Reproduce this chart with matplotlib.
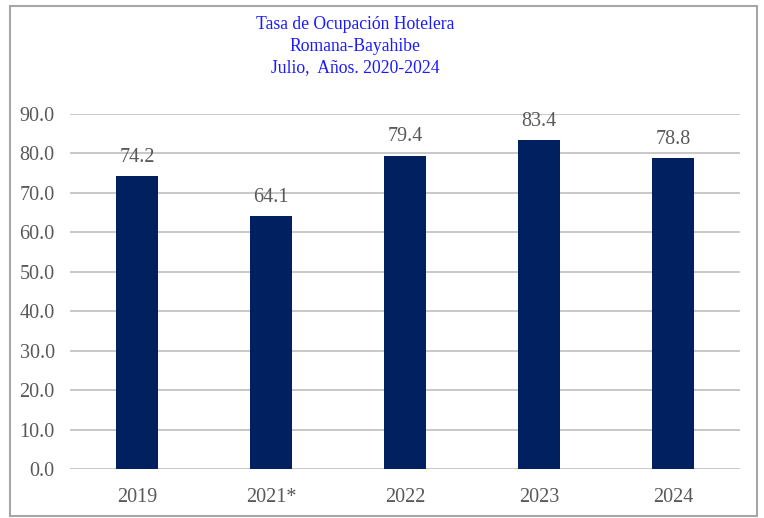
import matplotlib.pyplot as plt
from matplotlib.patches import Rectangle

years = ['2019', '2021*', '2022', '2023', '2024']
ocupacion = [74.2, 64.1, 79.4, 83.4, 78.8]
yticks = [0, 10, 20, 30, 40, 50, 60, 70, 80, 90]

plt.rcParams['font.family'] = ['Liberation Serif', 'DejaVu Serif']

fig = plt.figure(figsize=(7.64, 5.18), dpi=100)
ax = fig.add_axes([0.0916, 0.0946, 0.877, 0.6853])

x = range(len(years))
ax.bar(x, ocupacion, width=0.31, color='#002060', zorder=3)
for xi, v in zip(x, ocupacion):
    ax.text(xi, v + 2.4, f'{v:.1f}', ha='center', va='bottom', fontsize=14.5, color='#595959')

ax.set_ylim(0, 90)
ax.set_xlim(-0.5, len(years) - 0.5)
ax.set_yticks(yticks)
ax.set_yticklabels([f'{t:.1f}' for t in yticks])
ax.set_xticks(list(x))
ax.set_xticklabels(years)
ax.tick_params(axis='both', length=0, labelsize=14.5, labelcolor='#595959')
ax.tick_params(axis='y', pad=11)
ax.tick_params(axis='x', pad=14)
ax.grid(axis='y', color='#bfbfbf', linewidth=1.2, zorder=0)
for s in ax.spines.values():
    s.set_visible(False)

fig.text(0.465, 0.952, 'Tasa de Ocupación Hotelera', ha='center', va='center', fontsize=12.7, color='#1a1aff')
fig.text(0.465, 0.911, 'Romana-Bayahibe', ha='center', va='center', fontsize=12.7, color='#1a1aff')
fig.text(0.465, 0.869, 'Julio,  Años. 2020-2024', ha='center', va='center', fontsize=12.7, color='#1a1aff')

fig.patches.append(Rectangle((0.013, 0.004), 0.978, 0.985, transform=fig.transFigure,
                             fill=False, edgecolor='#a6a6a6', linewidth=1.5))

fig.savefig('out.png', dpi=100)
